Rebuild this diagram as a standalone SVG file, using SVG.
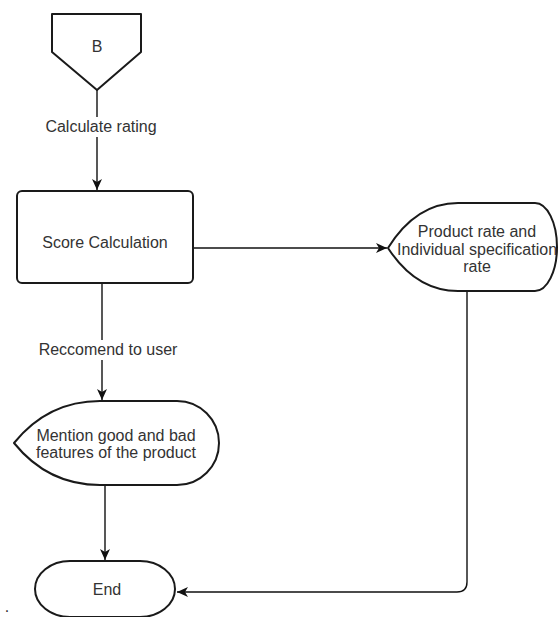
<svg xmlns="http://www.w3.org/2000/svg" width="559" height="617" viewBox="0 0 559 617">
<defs>
<style>
.shape{fill:#fff;stroke:#1a1a1a;stroke-width:2;stroke-linejoin:round}
.conn{fill:none;stroke:#111;stroke-width:1.4}
.t{font-family:"Liberation Sans",Arial,sans-serif;font-size:16px;fill:#333;text-anchor:middle}
.lbl{fill:#fff;stroke:none}
</style>
<marker id="arr" markerUnits="userSpaceOnUse" markerWidth="12" markerHeight="10" refX="11" refY="5" orient="auto">
<path d="M0,0 L11,5 L0,10 L3,5 z" fill="#111"/>
</marker>
</defs>
<rect width="559" height="617" fill="#fff"/>
<g id="connectors">
<path class="conn" d="M97,90 L97,190" marker-end="url(#arr)"/>
<rect class="lbl" x="43" y="117" width="116" height="20"/>
<text class="t" x="101" y="132">Calculate rating</text>
<path class="conn" d="M193,248 L387,248" marker-end="url(#arr)"/>
<path class="conn" d="M102,283 L102,400" marker-end="url(#arr)"/>
<rect class="lbl" x="37" y="340" width="142" height="20"/>
<text class="t" x="108" y="355">Reccomend to user</text>
<path class="conn" d="M105,485 L105,560" marker-end="url(#arr)"/>
<path class="conn" d="M467,291 L467,582 Q467,592 457,592 L177,592" marker-end="url(#arr)"/>
</g>
<g id="node-b">
<path class="shape" d="M52,14 L141,14 L141,52 L97,90 L52,52 Z"/>
<text class="t" x="97" y="52">B</text>
</g>
<g id="node-score">
<rect class="shape" x="17" y="191" width="176" height="92" rx="5"/>
<text class="t" x="105" y="248">Score Calculation</text>
</g>
<g id="node-product">
<path class="shape" d="M388,248 Q416,203 458,203 L535,203 A22,44 0 0 1 535,291 L458,291 Q416,291 388,248 Z"/>
<text class="t" x="477" y="237">Product rate and</text>
<text class="t" x="477" y="255">Individual specification</text>
<text class="t" x="477" y="272">rate</text>
</g>
<g id="node-mention">
<path class="shape" d="M14,443 Q48,401 100,401 L177,401 A42,42 0 0 1 177,485 L100,485 Q48,485 14,443 Z"/>
<text class="t" x="116" y="441">Mention good and bad</text>
<text class="t" x="116" y="458">features of the product</text>
</g>
<g id="node-end">
<path class="shape" d="M70,561 L140,561 A35,28 0 0 1 140,617 L70,617 A35,28 0 0 1 70,561 Z"/>
<text class="t" x="107" y="595">End</text>
</g>
<text class="t" x="7" y="612">.</text>
</svg>
